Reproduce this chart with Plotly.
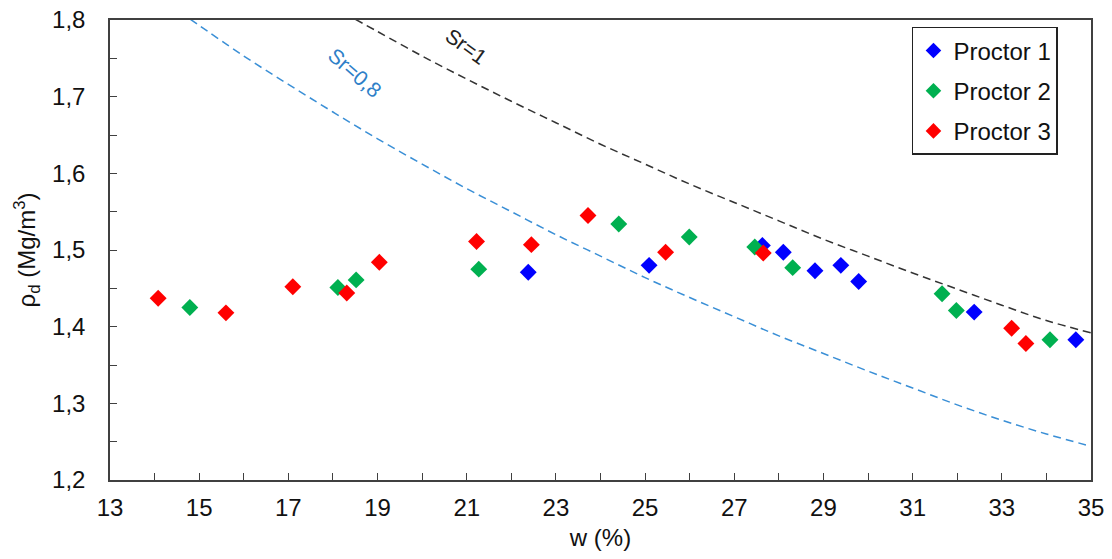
import plotly.graph_objects as go

# Proctor data: water content w (%) and dry density (Mg/m3)
p1_w = [22.38, 25.09, 27.63, 28.10, 28.81, 29.39, 29.79, 32.38, 34.66]
p1_rho = [1.471, 1.480, 1.506, 1.497, 1.473, 1.480, 1.459, 1.419, 1.383]

p2_w = [14.79, 18.11, 18.52, 21.27, 24.41, 25.99, 27.46, 28.31, 31.66, 31.98, 34.08]
p2_rho = [1.425, 1.451, 1.461, 1.475, 1.534, 1.517, 1.504, 1.477, 1.443, 1.421, 1.383]

p3_w = [14.08, 15.60, 17.10, 18.31, 19.04, 21.22, 22.45, 23.72, 25.46, 27.65, 33.22, 33.54]
p3_rho = [1.437, 1.418, 1.452, 1.444, 1.484, 1.511, 1.507, 1.545, 1.497, 1.496, 1.398, 1.378]

# Saturation lines
sr1_w = [18.5, 19, 20, 21, 22, 23, 24, 25, 26, 27, 28, 29, 30, 31, 32, 33, 34, 35]
sr1_rho = [1.801, 1.785, 1.753, 1.723, 1.694, 1.666, 1.638, 1.612, 1.586, 1.562, 1.538,
           1.514, 1.492, 1.470, 1.449, 1.428, 1.408, 1.392]

sr08_w = [14.8, 15, 16, 17, 18, 19, 20, 21, 22, 23, 24, 25, 26, 27, 28, 29, 30, 31, 32, 33, 34, 35]
sr08_rho = [1.801, 1.793, 1.753, 1.716, 1.680, 1.645, 1.612, 1.580, 1.550, 1.520, 1.492,
            1.464, 1.438, 1.413, 1.388, 1.365, 1.342, 1.320, 1.298, 1.278, 1.260, 1.244]

FONT = "Liberation Sans, Arial, sans-serif"

fig = go.Figure()

fig.add_trace(go.Scatter(x=sr08_w, y=sr08_rho, mode="lines", showlegend=False,
                         line=dict(color="#3a8fd6", width=1.5, dash="8px,5px", shape="spline"),
                         hoverinfo="skip"))
fig.add_trace(go.Scatter(x=sr1_w, y=sr1_rho, mode="lines", showlegend=False,
                         line=dict(color="#333333", width=1.5, dash="8px,5px", shape="spline"),
                         hoverinfo="skip"))

series = [("Proctor 1", p1_w, p1_rho, "#0000ff"),
          ("Proctor 2", p2_w, p2_rho, "#00b050"),
          ("Proctor 3", p3_w, p3_rho, "#ff0000")]
for name, xs, ys, col in series:
    fig.add_trace(go.Scatter(x=xs, y=ys, mode="markers", name=name, legendgroup=name,
                             marker=dict(symbol="diamond", size=13, color=col,
                                         line=dict(width=0))))

fig.add_annotation(x=21.0, y=1.766, text="Sr=1", showarrow=False, textangle=36,
                   font=dict(family=FONT, size=21, color="#222222"))
fig.add_annotation(x=18.49, y=1.732, text="Sr=0,8", showarrow=False, textangle=41,
                   font=dict(family=FONT, size=21, color="#2e7fc8"))

axis_common = dict(showline=True, linecolor="#404040", linewidth=1.5, mirror=True,
                   ticks="inside", ticklen=7, tickcolor="#404040", tickwidth=1.3,
                   showgrid=False, zeroline=False, automargin=False,
                   tickfont=dict(family=FONT, size=24, color="#111111"))

fig.update_layout(
    template="none",
    width=1112, height=559,
    margin=dict(l=110, r=21, t=20, b=79, autoexpand=False),
    paper_bgcolor="white", plot_bgcolor="white",
    separators=", ",
    font=dict(family=FONT, color="#111111"),
    xaxis=dict(range=[13, 35], tick0=13, dtick=2,
               minor=dict(dtick=1, ticks="inside", ticklen=7, tickcolor="#404040", tickwidth=1.3),
               ticklabelstandoff=5,
               title=dict(text="w (%)", font=dict(family=FONT, size=24), standoff=10),
               **axis_common),
    yaxis=dict(range=[1.2, 1.8], tick0=1.2, dtick=0.1, tickformat=".1f",
               minor=dict(dtick=0.05, ticks="inside", ticklen=7, tickcolor="#404040", tickwidth=1.3),
               ticklabelstandoff=18,
               title=dict(text="ρ<sub>d</sub> (Mg/m<sup>3</sup>)", font=dict(family=FONT, size=24),
                          standoff=10),
               **axis_common),
    legend=dict(x=0.8175, y=0.985, xanchor="left", yanchor="top",
                bgcolor="white", bordercolor="#222222", borderwidth=1.5,
                font=dict(family=FONT, size=24, color="#111111"),
                tracegroupgap=6, itemwidth=30, itemsizing="constant"),
)

fig.write_html("out.html", config={"displayModeBar": False},
               post_script="document.body.style.margin='0';document.body.style.padding='0';")
